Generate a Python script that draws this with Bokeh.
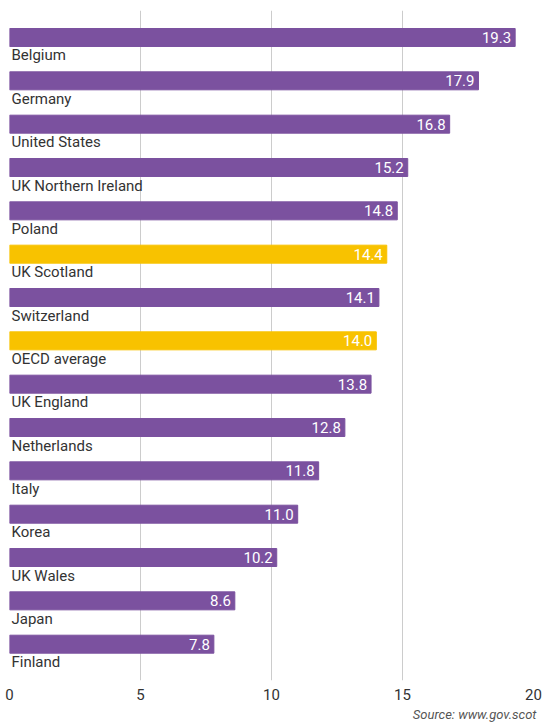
from bokeh.plotting import figure
from bokeh.models import ColumnDataSource, Range1d, FixedTicker, Title
from bokeh.core.properties import value
from bokeh.embed import file_html
from bokeh.resources import INLINE

countries = ["Belgium", "Germany", "United States", "UK Northern Ireland", "Poland",
             "UK Scotland", "Switzerland", "OECD average", "UK England", "Netherlands",
             "Italy", "Korea", "UK Wales", "Japan", "Finland"]
values = [19.3, 17.9, 16.8, 15.2, 14.8, 14.4, 14.1, 14.0, 13.8, 12.8, 11.8, 11.0, 10.2, 8.6, 7.8]
highlight = ["UK Scotland", "OECD average"]
x_ticks = [0, 5, 10, 15, 20]
source_note = "Source: www.gov.scot"

PURPLE = "#7b519f"
YELLOW = "#f8c200"
FONT = "Roboto"

colors = [YELLOW if c in highlight else PURPLE for c in countries]
pos = list(range(len(countries)))
src = ColumnDataSource(dict(
    y=pos, v=values, c=colors, name=countries,
    lab=[f"{v:.1f}" for v in values], zero=[0] * len(values)))

p = figure(width=543, height=724, output_backend="svg", toolbar_location=None,
           x_range=Range1d(0, 20), y_range=Range1d(14.838, -0.623),
           min_border_left=9, min_border_right=10, min_border_top=10, min_border_bottom=44)
p.outline_line_color = None
p.background_fill_color = "white"
p.border_fill_color = "white"

p.hbar(y="y", left="zero", right="v", height=0.415, color="c", source=src)
p.text(x="v", y="y", text="lab", source=src, x_offset=-4, text_align="right",
       text_baseline="middle", text_color="white", text_font_size="15px",
       text_font=value(FONT))
p.text(x="zero", y="y", text="name", source=src, x_offset=2, y_offset=18,
       text_align="left", text_baseline="alphabetic", text_color="#333333",
       text_font_size="15px", text_font=value(FONT))

p.yaxis.visible = False
p.ygrid.visible = False
p.xaxis.ticker = FixedTicker(ticks=x_ticks)
p.xgrid.ticker = FixedTicker(ticks=x_ticks)
p.xgrid.grid_line_color = "#cccccc"
p.xgrid.grid_line_width = 1
p.xaxis.axis_line_color = None
p.xaxis.major_tick_line_color = None
p.xaxis.minor_tick_line_color = None
p.xaxis.major_label_standoff = 2
p.xaxis.major_label_text_font_size = "15px"
p.xaxis.major_label_text_color = "#333333"
p.xaxis.major_label_text_font = FONT

p.add_layout(Title(text=source_note, align="right", text_font_style="italic",
                   text_font_size="13px", text_color="#555555", text_font=FONT,
                   offset=-3, standoff=5), "below")
p.toolbar.logo = None

open("out.html", "w").write(file_html(p, INLINE))
